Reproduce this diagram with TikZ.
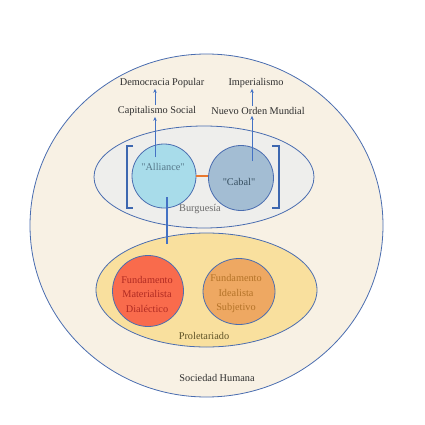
\documentclass[tikz,border=0pt]{standalone}
\usepackage{fontspec}
\setmainfont{Liberation Serif}
\usetikzlibrary{arrows.meta,shapes.geometric}
\definecolor{cream}{HTML}{F8F1E4}
\definecolor{outl}{HTML}{4A6DB0}
\definecolor{arr}{HTML}{4472C4}
\definecolor{burgfill}{HTML}{EEEEEC}
\definecolor{prolfill}{HTML}{F9E09E}
\definecolor{allfill}{HTML}{A8DCEA}
\definecolor{cabfill}{HTML}{A3BDD3}
\definecolor{redfill}{HTML}{F96B4C}
\definecolor{orfill}{HTML}{EEA862}
\definecolor{redtxt}{HTML}{B02A22}
\definecolor{ortxt}{HTML}{B47328}
\definecolor{dtxt}{HTML}{2E2E2E}
\definecolor{alltxt}{HTML}{56788A}
\definecolor{cabtxt}{HTML}{364F60}
\definecolor{burgtxt}{HTML}{6A6A6A}
\definecolor{proltxt}{HTML}{5E5226}
\definecolor{conn}{HTML}{E9782F}
\tikzset{
  lbl/.style={font=\fontsize{10.3}{12}\selectfont, text=dtxt, inner sep=1pt},
  shp/.style={draw=outl, line width=0.8pt},
  upar/.style={draw=arr, line width=0.7pt, -{Stealth[length=4pt,width=3.5pt]}},
  brk/.style={draw=arr!90!black, line width=2pt},
}
\begin{document}
\begin{tikzpicture}[x=1pt,y=-1pt]
\useasboundingbox (0,0) rectangle (425,425);
% outer society
\draw[shp, fill=cream] (206.5,225.5) ellipse [x radius=176.5, y radius=171.5];
% Burguesia ellipse
\draw[shp, fill=burgfill] (204,177) ellipse [x radius=110, y radius=51];
% Proletariado ellipse
\draw[shp, fill=prolfill] (206.5,290) ellipse [x radius=110.5, y radius=57];
% circles
\node[shp, circle, fill=allfill, minimum size=64pt, inner sep=0pt] (all) at (164,176) {};
\node[shp, circle, fill=cabfill, minimum size=65pt, inner sep=0pt] (cab) at (241,178) {};
\node[shp, circle, fill=redfill, minimum size=71pt, inner sep=0pt] (red) at (148,291) {};
\node[shp, ellipse, fill=orfill, minimum width=72pt, minimum height=66pt, inner sep=0pt] (ora) at (239,291.5) {};
% texts in circles
\node[lbl, text=alltxt] (alltxtn) at (163,167) {\textquotedbl Alliance\textquotedbl};
\node[lbl, text=cabtxt] (cabtxtn) at (239,182) {\textquotedbl Cabal\textquotedbl};
\node[lbl, text=redtxt, align=center, font=\fontsize{10.3}{14.5}\selectfont] (redtxtn) at (147,294) {Fundamento\\Materialista\\Dialéctico};
\node[lbl, text=ortxt, align=center, font=\fontsize{10.3}{14.5}\selectfont] (oratxtn) at (236,294) {Fundamento\\Idealista\\Subjetivo};
\node[lbl, text=burgtxt] (burg) at (200,209) {Burguesía};
\node[lbl, text=proltxt] (prol) at (204,336) {Proletariado};
\node[lbl] (sh) at (217,378) {Sociedad Humana};
% top labels
\node[lbl] (cs) at (157,111) {Capitalismo Social};
\node[lbl] (dp) at (162,83) {Democracia Popular};
\node[lbl] (nom) at (258,111) {Nuevo Orden Mundial};
\node[lbl] (imp) at (256,83) {Imperialismo};
% brackets
\coordinate (lb1) at (133,146); \coordinate (lb2) at (126.5,146);
\coordinate (lb3) at (126.5,208); \coordinate (lb4) at (133,208);
\draw[brk] (lb1) -- (lb2) -- (lb3) -- (lb4);
\coordinate (rb1) at (272,146); \coordinate (rb2) at (279,146);
\coordinate (rb3) at (279,208); \coordinate (rb4) at (272,208);
\draw[brk] (rb1) -- (rb2) -- (rb3) -- (rb4);
% connector between alliance and cabal
\draw[conn, line width=1.2pt] (all.east) -- (cab.west |- all.east);
% arrows
\coordinate (a0) at (155,157);
\draw[upar] (a0) -- (cs.south -| a0);
\draw[upar] (cs.north -| a0) -- (dp.south -| a0);
\coordinate (c0) at (252,161);
\draw[upar] (c0) -- (nom.south -| c0);
\draw[upar] (nom.north -| c0) -- (imp.south -| c0);
% link down to proletariado
\coordinate (al0) at (167,197);
\coordinate (pl) at (167,244);
\draw[arr, line width=1.3pt] (al0) -- (pl);
\end{tikzpicture}
\end{document}
